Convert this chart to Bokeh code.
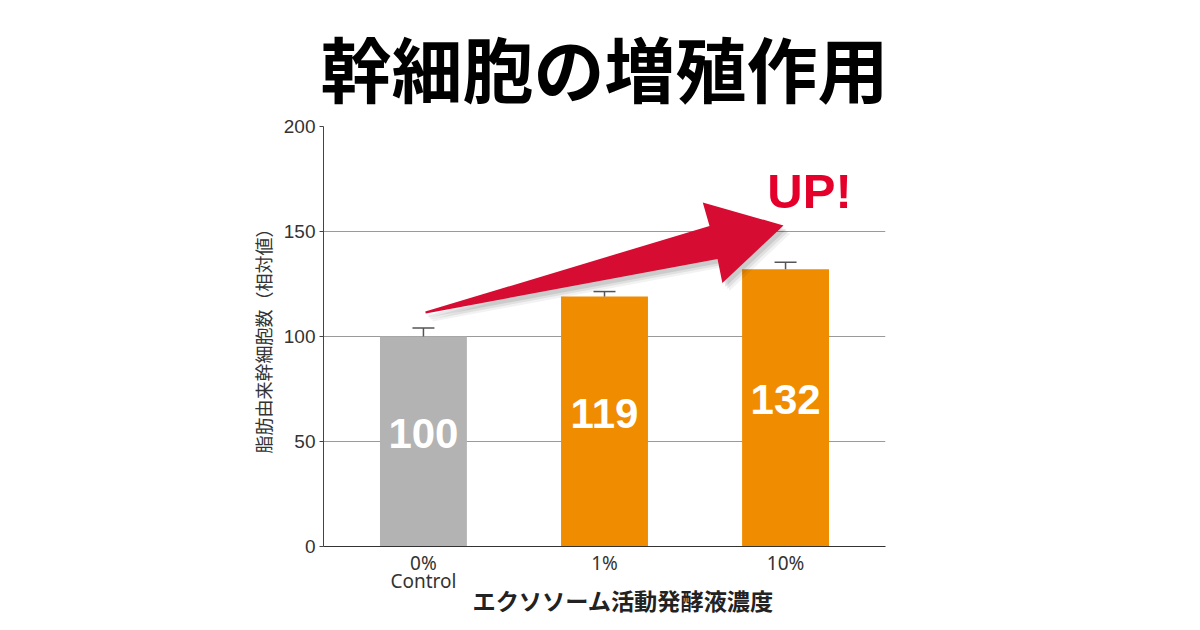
import numpy as np
from bokeh.plotting import figure
from bokeh.models import Range1d, FixedTicker, Label, Title
from bokeh.embed import file_html
from bokeh.resources import INLINE

# ---- data ----
categories = ["0%\nControl", "1%", "10%"]
values = [100, 119, 132]
errors = [4.0, 2.4, 3.3]
bar_colors = ["#B3B3B3", "#F08C00", "#F08C00"]
y_ticks = [0, 50, 100, 150, 200]
title_text = "幹細胞の増殖作用"
y_label = "脂肪由来幹細胞数（相対値）"
x_label = "エクソソーム活動発酵液濃度"
up_text = "UP!"

# ---- layout (canvas px) ----
W, H = 1184, 620
FL, FR, FT, FB = 323, 885, 126, 546
X0, X1 = -0.552, 2.552
Y0, Y1 = 0, 200
sx = (FR - FL) / (X1 - X0)
sy = (FB - FT) / (Y1 - Y0)

def px2x(px):
    return X0 + (px - FL) / sx

def px2y(py):
    return (FB - py) / sy

p = figure(width=W, height=H, x_range=Range1d(X0, X1), y_range=Range1d(Y0, Y1),
           output_backend="svg", toolbar_location=None,
           min_border_left=FL, min_border_right=W - FR,
           min_border_top=FT, min_border_bottom=H - FB)
p.outline_line_color = None
p.background_fill_color = "white"
p.border_fill_color = "white"

p.title.text = title_text
p.title.align = "center"
p.title.text_font = "Noto Sans CJK JP"
p.title.text_font_style = "bold"
p.title.text_font_size = "71px"
p.title.text_color = "#000000"
p.title.standoff = 20

p.xgrid.visible = False
p.ygrid.ticker = FixedTicker(ticks=y_ticks)
p.ygrid.grid_line_color = "#9a9a9a"
p.ygrid.grid_line_width = 1

p.yaxis.ticker = FixedTicker(ticks=y_ticks)
p.yaxis.axis_line_color = "#444444"
p.yaxis.major_tick_line_color = "#444444"
p.yaxis.major_tick_out = 4
p.yaxis.major_tick_in = 0
p.yaxis.minor_tick_line_color = None
p.yaxis.major_label_text_font = "Liberation Sans"
p.yaxis.major_label_text_font_size = "19px"
p.yaxis.major_label_text_color = "#333333"
p.yaxis.major_label_standoff = 4
p.yaxis.axis_label = y_label
p.yaxis.axis_label_text_font = "Noto Sans CJK JP"
p.yaxis.axis_label_text_font_size = "18px"
p.yaxis.axis_label_text_font_style = "normal"
p.yaxis.axis_label_text_color = "#333333"
p.yaxis.axis_label_standoff = 5

xs = list(range(len(categories)))
p.xaxis.ticker = FixedTicker(ticks=xs)
p.xaxis.major_label_overrides = {i: c for i, c in zip(xs, categories)}
p.xaxis.axis_line_color = "#333333"
p.xaxis.axis_line_width = 1.2
p.xaxis.major_tick_out = 0
p.xaxis.major_tick_in = 0
p.xaxis.minor_tick_line_color = None
p.xaxis.major_label_text_font = "Noto Sans"
p.xaxis.major_label_text_font_size = "19px"
p.xaxis.major_label_text_color = "#333333"
p.xaxis.major_label_text_line_height = 0.72
p.xaxis.major_label_standoff = 3

# x axis title as a below-panel title, shifted right like the reference
p.add_layout(Title(text=x_label, align="left", offset=472 - FL, standoff=-38,
                   text_font="Noto Sans CJK JP", text_font_style="bold",
                   text_font_size="23.2px", text_color="#222222"), "below")

# bars
p.vbar(x=xs, top=values, width=0.48, bottom=0, color=bar_colors, line_color=None)

# error bars
tops = [v + e for v, e in zip(values, errors)]
cap = 22 / sx
p.segment(x0=xs, y0=values, x1=xs, y1=tops, line_color="#555555", line_width=1.5)
p.segment(x0=[x - cap / 2 for x in xs], y0=tops, x1=[x + cap / 2 for x in xs], y1=tops,
          line_color="#555555", line_width=1.5)

# value labels
for x, v in zip(xs, values):
    p.add_layout(Label(x=x, y=v / 2 + 4, text=str(v), text_align="center",
                       text_baseline="middle", text_color="white",
                       text_font="Liberation Sans", text_font_style="bold",
                       text_font_size="42px"))

# arrow (decorative), tail near control bar, tip above 10% bar
tail = (425.0, 312.0)
tip = (783.0, 225.0)
d = np.array([tip[0] - tail[0], tip[1] - tail[1]])
L = np.hypot(*d)
u = d / L
n = np.array([u[1], -u[0]])
head_len = 72.0
head_half = 41.5
shaft_half = 17.0
tail_half = 1.0
base = L - head_len
local = [(0, tail_half), (base, shaft_half), (base - 1, head_half), (L, 0),
         (base - 1, -head_half), (base, -shaft_half), (0, -tail_half)]

def arrow_pts(dx=0.0, dy=0.0):
    pts = [np.array(tail) + a * u + b * n + np.array([dx, dy]) for a, b in local]
    return [px2x(q[0]) for q in pts], [px2y(q[1]) for q in pts]

for off, al in [((7, 8), 0.05), ((5, 6), 0.07), ((3, 4), 0.09)]:
    ax, ay = arrow_pts(*off)
    p.patch(ax, ay, fill_color="#000000", fill_alpha=al, line_color=None)
ax, ay = arrow_pts()
p.patch(ax, ay, fill_color="#D70C32", line_color=None)

p.add_layout(Label(x=px2x(809), y=px2y(190), text=up_text, text_align="center",
                   text_baseline="middle", text_color="#E4002B",
                   text_font="Liberation Sans", text_font_style="bold",
                   text_font_size="49px"))

open("out.html", "w").write(file_html(p, INLINE))
